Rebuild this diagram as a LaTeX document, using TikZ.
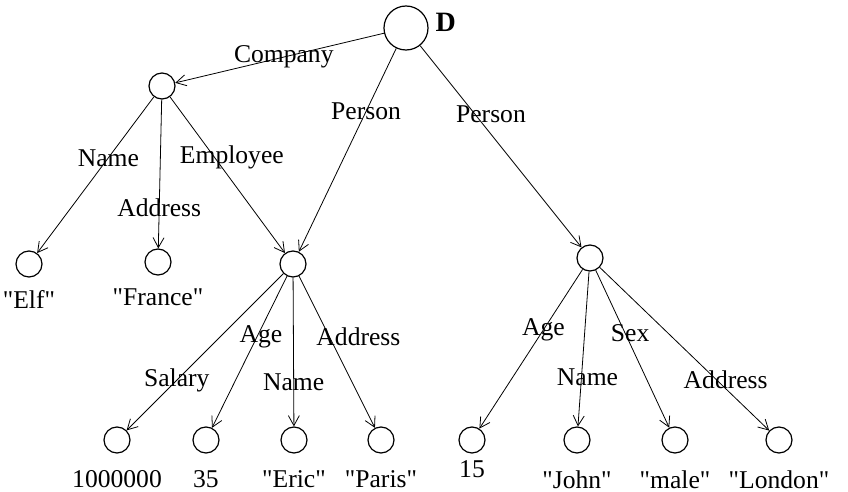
\documentclass[tikz,border=0pt]{standalone}
\usepackage{fontspec}
\setmainfont{Liberation Serif}[Ligatures=TeXOff]
\usetikzlibrary{arrows.meta}

\begin{document}
\begin{tikzpicture}[->,>={Straight Barb[length=5pt,width=5.5pt]},auto,x=0.5pt,y=-0.5pt,
    every node/.style={font=\fontsize{12.8}{15}\selectfont},
    obj/.style={draw, circle, line width=0.6pt, minimum size=13pt, inner sep=0pt},
    val/.style={label distance=5pt},
    lbl/.style={inner sep=1pt}]
  \useasboundingbox (0,0) rectangle (848,492);
  \node (D)  [obj, minimum size=22pt, label={[font=\fontsize{14}{16}\selectfont\bfseries, label distance=0pt, yshift=3pt]right:D}] at (406,28) {};
  \node (C)  [obj]                                    at (162,86)  {};
  \node (Ce) [obj, label={[val, label distance=3pt]below:"Elf"}] at (29,264) {};
  \node (Cf) [obj, label={[val, label distance=3pt]below:"France"}] at (158,262) {};
  \node (E)  [obj]                                    at (293,264) {};
  \node (Es) [obj, label={[val]below:1000000}]        at (117,440) {};
  \node (Ea) [obj, label={[val]below:35}]             at (206,440) {};
  \node (En) [obj, label={[val]below:"Eric"}]         at (294,440) {};
  \node (Ep) [obj, label={[val]below:"Paris"}]        at (381,440) {};
  \node (P)  [obj]                                    at (590,258) {};
  \node (Pa) [obj, label={[val, label distance=0pt]below:15}] at (472,440) {};
  \node (Pn) [obj, label={[val]below:"John"}]         at (577,440) {};
  \node (Ps) [obj, label={[val]below:"male"}]         at (675,440) {};
  \node (Pd) [obj, label={[val]below:"London"}]       at (779,440) {};
  \path (D) edge node[lbl, pos=.48, anchor=center]              {Company}  (C)
            edge node[lbl, pos=.31, anchor=center]              {Person}   (E)
            edge node[lbl, pos=.34, anchor=center, xshift=8pt]  {Person}   (P);
  \path (C) edge node[lbl, pos=.39, anchor=center]              {Name}     (Ce)
            edge node[lbl, pos=.73, anchor=center]              {Address}  (Cf)
            edge node[lbl, pos=.39, anchor=center, xshift=8.5pt]{Employee} (E);
  \path (E) edge node[lbl, pos=.68, anchor=center]              {Salary}   (Es)
            edge node[lbl, pos=.40, anchor=center, xshift=2pt]  {Age}      (Ea)
            edge node[lbl, pos=.70, anchor=center]              {Name}     (En)
            edge node[lbl, pos=.40, anchor=center, xshift=14.5pt]{Address} (Ep);
  \path (P) edge node[lbl, pos=.38, anchor=center]              {Age}      (Pa)
            edge node[lbl, pos=.68, anchor=center, xshift=3pt]  {Name}     (Pn)
            edge node[lbl, pos=.40, anchor=center, xshift=2.5pt]{Sex}      (Ps)
            edge node[lbl, pos=.69, anchor=center, xshift=4.5pt]{Address}  (Pd);
\end{tikzpicture}
\end{document}
